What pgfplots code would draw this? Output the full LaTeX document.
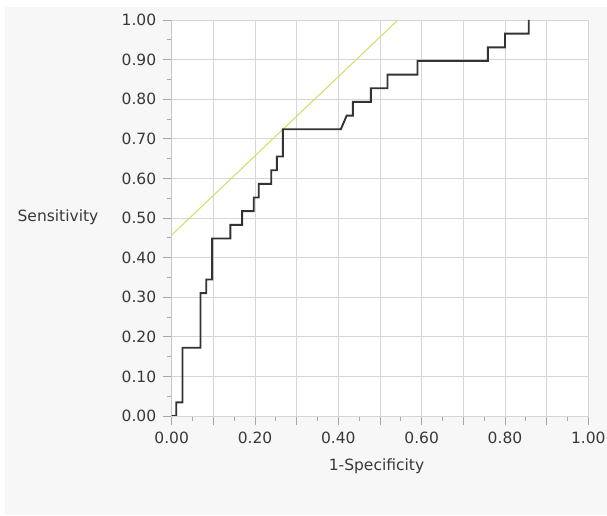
\documentclass[border=0pt]{standalone}
\usepackage{pgfplots}
\pgfplotsset{compat=1.18}
\usepackage{fontspec}
\setmainfont{DejaVu Sans}
\definecolor{panelbg}{HTML}{F7F7F7}
\definecolor{gridc}{HTML}{D6D6D6}
\definecolor{axisc}{HTML}{A8A8A8}
\definecolor{textc}{HTML}{383838}
\definecolor{rocc}{HTML}{333333}
\definecolor{refc}{HTML}{D8DE6C}

% ROC curve: 1-specificity vs sensitivity
\pgfplotstableread{
fpr tpr
0.000 0.0000
0.011 0.0000
0.011 0.0345
0.026 0.0345
0.026 0.1724
0.069 0.1724
0.069 0.3103
0.083 0.3103
0.083 0.3448
0.097 0.3448
0.097 0.4483
0.141 0.4483
0.141 0.4828
0.169 0.4828
0.169 0.5172
0.197 0.5172
0.197 0.5517
0.209 0.5517
0.209 0.5862
0.239 0.5862
0.239 0.6207
0.2525 0.6207
0.2525 0.6552
0.267 0.6552
0.267 0.7241
0.406 0.7241
0.420 0.7586
0.435 0.7586
0.435 0.7931
0.478 0.7931
0.478 0.8276
0.518 0.8276
0.518 0.8621
0.590 0.8621
0.590 0.8966
0.759 0.8966
0.759 0.9310
0.800 0.9310
0.800 0.9655
0.857 0.9655
0.857 1.0000
}\roc

\begin{document}
\begin{tikzpicture}[font=\fontsize{15.5bp}{18bp}\selectfont]
\useasboundingbox (0bp,0bp) rectangle (607bp,516bp);
\fill[white] (0bp,0bp) rectangle (607bp,516bp);
\fill[panelbg] (5bp,1bp) rectangle (607bp,509bp);
\begin{axis}[
  at={(171.7bp,100bp)}, anchor=south west,
  scale only axis, width=416.6bp, height=396bp,
  xmin=0, xmax=1, ymin=0, ymax=1,
  axis background/.style={fill=white},
  axis line style={gridc, line width=0.8pt},
  xtick={0,0.1,...,1.01},
  xticklabels={0.00,,0.20,,0.40,,0.60,,0.80,,1.00},
  minor xtick={0.05,0.15,...,1},
  ytick={0,0.1,...,1.01},
  yticklabels={0.00,0.10,0.20,0.30,0.40,0.50,0.60,0.70,0.80,0.90,1.00},
  minor ytick={0.05,0.15,...,1},
  xtick pos=bottom, ytick pos=left,
  tick align=outside,
  major tick length=9bp, minor tick length=5bp,
  every tick/.style={axisc, line width=0.8pt},
  xmajorgrids, ymajorgrids,
  major grid style={gridc, line width=0.8pt},
  tick label style={textc},
  xticklabel style={yshift=-3bp},
  yticklabel style={xshift=-3bp},
  clip=true,
]
\draw[axisc, line width=1pt] (rel axis cs:0,1) -- (rel axis cs:0,0) -- (rel axis cs:1,0);
\addplot[refc, line width=1.1pt] coordinates {(0,0.4569) (0.5431,1)};
\addplot[rocc, line width=1.9pt, line join=miter] table[x=fpr, y=tpr] {\roc};
\end{axis}
\node[textc] at (58bp,299bp) {Sensitivity};
\node[textc] at (376.5bp,49.3bp) {1-Specificity};
\end{tikzpicture}
\end{document}
